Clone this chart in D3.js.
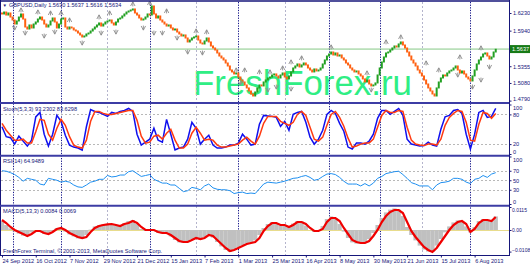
<!DOCTYPE html>
<html><head><meta charset="utf-8">
<script src="https://cdn.jsdelivr.net/npm/d3@7"></script>
<style>body{margin:0;background:#fff}svg{display:block}text{font-family:"Liberation Sans",Arial,sans-serif}</style>
</head><body><svg id="c" width="530" height="265"></svg>
<script>
// ---------- data ----------
const firstOpen = 1.6230;
const closes = [
1.6214,1.6246,1.6197,1.6230,1.6164, 1.6115,1.6049,1.6099,1.6164, 1.6214,1.6131,
1.6000,1.5967,1.6033,1.5984, 1.6049,1.6082,1.6131,1.6164,1.6115, 1.6049,1.6000,1.6033,
1.6099,1.6148, 1.6082,1.5984,1.6049, 1.6131,1.6148, 1.6000,1.5967,1.6000,1.5984,
1.5951,1.5934,1.5901,1.5869,1.5836, 1.5852,1.5885,1.5901,1.5934,1.5967,1.6000,1.6033,1.6066,
1.6016,1.6049,1.6082,1.6099,1.6115, 1.6066,1.6033,1.6082,1.6131,1.6148,1.6181,1.6214,1.6246,1.6263,1.6279,1.6296,
1.6230,1.6197,1.6148,1.6115,1.6131,1.6164, 1.6214,1.6197, 1.6345, 1.6214,1.6148,1.6181,1.6115,
1.6082,1.6049,1.6016,1.6033,1.5984,1.5951,1.5967,1.5918,1.5885,1.5852,1.5869,1.5819,
1.5754,1.5786,1.5819,1.5836,1.5852,1.5786,1.5737,1.5721,1.5770,1.5819,1.5754,1.5688,
1.5655,1.5622,1.5573,1.5523,1.5491,1.5458,1.5408, 1.5359,1.5293,1.5261,1.5228,1.5244,1.5178,1.5129,
1.5096,1.5047,1.4998,1.4948,1.4899,1.4866,
1.4932,1.4998,1.5047,1.5031,1.5096,1.5129,1.5162,1.5178,1.5211,1.5228,
1.5195,1.5162,1.5211,1.5244,1.5178,1.5146,1.5195,1.5261,
1.5326,1.5359,1.5392,1.5343,1.5376,1.5408,1.5376, 1.5326,1.5293,1.5261,1.5310,1.5277,1.5293,1.5326,
1.5392,1.5458,1.5523,1.5556,1.5589, 1.5540,1.5573,1.5523,1.5540,
1.5491,1.5458,1.5408,1.5376,1.5326,1.5293,1.5261,1.5277,1.5228,1.5195,
1.5146,1.5096,1.5129,1.5063,1.5031,1.5047,1.5080, 1.5211,1.5326,1.5425,1.5507,1.5573,
1.5589,1.5622,1.5655,1.5688,1.5671,1.5721,1.5754, 1.5704,1.5655,
1.5589,1.5523,1.5458,1.5408,1.5359,1.5293,1.5244, 1.5195,1.5129,1.5063,1.4998,1.4948,1.4899,1.4866,
1.4998,1.5096,1.5162,1.5211,1.5195,1.5244,1.5277,1.5293,1.5326,1.5359,
1.5293,1.5244,1.5277,1.5228,1.5178,1.5146,1.5113, 1.5195,1.5293,1.5392,1.5458,1.5507,1.5556,1.5573,
1.5523,1.5474,1.5507,1.5589,1.5634];
// fractals: [bar index, price]
const fractalUp = [[9,1.6279],[17,1.6246],[23,1.6230],[28,1.6230],[32,1.6115],[46,1.6164],[51,1.6230],[62,1.6378],[70,1.6394],[78,1.6263],
[92,1.5934],[97,1.5918],[111,1.5293],[115,1.5293],[122,1.5261],[127,1.5261],[133,1.5326],[137,1.5425],[142,1.5491],[156,1.5671],
[173,1.5244],[182,1.5754],[189,1.5836],[201,1.5408],[207,1.5293],[217,1.5507],[227,1.5655]];
const fractalDown = [[6,1.5984],[11,1.5901],[20,1.5852],[25,1.5918],[38,1.5737],[47,1.5901],[54,1.5918],[67,1.5984],[72,1.5901],[76,1.5901],
[83,1.5819],[88,1.5589],[95,1.5573],[113,1.5080],[126,1.4965],[130,1.5014],[137,1.4981],[175,1.4965],[216,1.5211],[223,1.5014],[227,1.5129],[231,1.5343]];
// indicators, one value every 2 bars
const stochK = [55,35,33,20,36,26,16,28,75,84, 40,16,40,78,66,38,18,14,12,8, 55,90,86,84,80,76,84,82,86,88,
92,86,40,18,24,30,52,28,24,70, 40,8,12,14,30,64,52,20,30,38, 18,12,12,14,18,18,22,40,30,18,
20,60,78,77,76,74,56,66,48,80, 84,86,64,34,20,30,48,80,88,82, 62,46,14,10,22,22,20,26,40,72,
88,88,80,86,92,78,30,20,18,16, 17,24,18,16,50,75,78,88,90,82, 40,10,40,84,88,74,76,92];
const stochD = [62,48,38,28,28,30,22,22,45,70, 68,40,28,52,70,58,35,18,14,12, 28,66,86,86,82,80,80,82,84,86,
88,88,68,36,22,24,36,38,30,42, 50,28,12,12,20,42,54,42,28,30, 28,18,14,14,16,18,20,28,34,26,
20,36,62,76,76,76,66,62,58,64, 80,86,78,54,30,26,34,58,80,86, 74,56,32,14,16,20,22,22,30,54,
78,88,84,84,88,86,54,28,20,18, 17,20,20,18,30,58,74,82,88,86, 64,28,26,60,84,82,72,82];
const rsi = [70,69,66,62,56,48,54,52,50,42, 40,54,52,50,46,48,46,40,36,35, 40,46,48,52,52,60,57,58,61,61,
68,70,64,58,60,62,52,48,44,44, 40,40,33,26,28,35,33,30,38,42, 34,31,30,30,28,22,24,25,22,23,
22,32,42,46,45,44,46,48,51,54, 55,58,60,56,50,52,58,63,64,62, 56,48,42,42,42,38,43,38,44,54,
58,64,66,68,69,62,54,45,42,38, 38,38,30,40,45,46,48,54,54,52, 46,43,52,54,60,56,63,66];
const macdHist = [0.0045,0.0025,0.0008,-0.0008,-0.0018,-0.0028,-0.0030,-0.0012,0.0000,-0.0008,
-0.0020,-0.0020,-0.0005,0.0010,0.0010,-0.0008,-0.0022,-0.0032,-0.0042,-0.0042,
-0.0025,0.0002,0.0018,0.0025,0.0028,0.0030,0.0028,0.0022,0.0024,0.0035,
0.0045,0.0050,0.0030,0.0005,-0.0005,0.0002,-0.0002,-0.0015,-0.0018,-0.0015,
-0.0032,-0.0050,-0.0062,-0.0065,-0.0058,-0.0045,-0.0040,-0.0048,-0.0035,-0.0022,
-0.0038,-0.0060,-0.0082,-0.0100,-0.0110,-0.0098,-0.0086,-0.0076,-0.0068,-0.0062,
-0.0052,-0.0025,0.0010,0.0030,0.0040,0.0032,0.0022,0.0022,0.0018,0.0032,
0.0045,0.0042,0.0022,0.0000,-0.0010,-0.0002,0.0020,0.0055,0.0068,0.0058,
0.0030,-0.0008,-0.0040,-0.0062,-0.0068,-0.0068,-0.0062,-0.0045,-0.0015,0.0025,
0.0060,0.0088,0.0102,0.0108,0.0102,0.0070,0.0015,-0.0025,-0.0052,-0.0078,
-0.0098,-0.0108,-0.0110,-0.0078,-0.0045,-0.0012,0.0018,0.0038,0.0048,0.0045,
0.0018,-0.0012,0.0015,0.0045,0.0055,0.0052,0.0050,0.0068];
const macdSignal = [0.0050,0.0035,0.0015,0.0000,-0.0010,-0.0020,-0.0030,-0.0020,-0.0005,-0.0005,
-0.0015,-0.0020,-0.0010,0.0005,0.0010,0.0000,-0.0015,-0.0025,-0.0035,-0.0040,
-0.0035,-0.0010,0.0010,0.0020,0.0025,0.0028,0.0030,0.0025,0.0020,0.0030,
0.0035,0.0045,0.0035,0.0015,0.0000,0.0000,0.0000,-0.0010,-0.0015,-0.0015,
-0.0025,-0.0040,-0.0055,-0.0060,-0.0060,-0.0050,-0.0040,-0.0045,-0.0040,-0.0025,
-0.0030,-0.0050,-0.0070,-0.0090,-0.0105,-0.0100,-0.0090,-0.0080,-0.0070,-0.0065,
-0.0060,-0.0040,-0.0005,0.0020,0.0035,0.0035,0.0025,0.0025,0.0015,0.0025,
0.0040,0.0040,0.0030,0.0010,-0.0005,-0.0005,0.0005,0.0040,0.0060,0.0060,
0.0045,0.0010,-0.0020,-0.0050,-0.0060,-0.0065,-0.0065,-0.0055,-0.0030,0.0000,
0.0040,0.0070,0.0090,0.0100,0.0100,0.0085,0.0040,-0.0005,-0.0035,-0.0060,
-0.0085,-0.0100,-0.0110,-0.0090,-0.0060,-0.0030,0.0000,0.0025,0.0040,0.0045,
0.0030,-0.0010,0.0005,0.0035,0.0050,0.0050,0.0045,0.0065];
const dateLabels = ["24 Sep 2012","16 Oct 2012","7 Nov 2012","29 Nov 2012","21 Dec 2012","15 Jan 2013","7 Feb 2013",
"1 Mar 2013","25 Mar 2013","16 Apr 2013","8 May 2013","30 May 2013","21 Jun 2013","15 Jul 2013","6 Aug 2013"];
const dateLabelBars = [0,16,32,48,64,80,96,112,128,144,160,176,192,208,224];
const priceTicks = [1.6230,1.5940,1.5355,1.5080,1.4790];
const lastPrice = 1.5637;
const stochTicks = [100,80,20,0], stochLevels = [80,20];
const rsiTicks = [100,70,50,30,0], rsiLevels = [70,50,30];
const macdTicks = [0.0115,0,-0.0108];
const separatorBars = [5,28,70,112,155,179,222];
const gridBars = [50,92,134,199];
const titleMain = "GBPUSD,Daily  1.5630 1.5637 1.5616 1.5634";
const titleStoch = "Stoch(5,3,3) 93.2302 83.6298";
const titleRsi = "RSI(14) 64.9489";
const titleMacd = "MACD(5,13,3) 0.0084 0.0069";
const copyright = "FreshForex Terminal, © 2001-2013, MetaQuotes Software Corp.";
const watermark = "FreshForex.ru";

// ---------- drawing ----------
const svg = d3.select("#c");
const RX = 509, NAVY = "#16167a", FS = 5.6;
const x = d3.scaleLinear().domain([0, closes.length-1]).range([2, 2+(closes.length-1)*2.11]);
const xi = j => x(2*j);
const yP = d3.scaleLinear().domain([1.4790,1.6230]).range([100.6,13]);
const yS = d3.scaleLinear().domain([0,100]).range([154,104.5]);
const yR = d3.scaleLinear().domain([0,100]).range([204,156.5]);
const yM = d3.scaleLinear().domain([-0.0115,0.0115]).range([253,207]);
svg.append("rect").attr("width",530).attr("height",265).attr("fill","#fff");
const defs = svg.append("defs");
const panes = {pm:[1,102], ps:[104,155], pr:[156.5,205], pd:[206.5,255]};
Object.entries(panes).forEach(([id,[a,b]])=>{
  defs.append("clipPath").attr("id",id).append("rect").attr("x",1).attr("y",a).attr("width",RX-1).attr("height",b-a);
});

// watermark
svg.append("text").attr("x",193).attr("y",95).attr("font-size",35).attr("fill","#2fee84")
  .attr("textLength",219).attr("lengthAdjust","spacingAndGlyphs").text(watermark);

// vertical lines
svg.selectAll(".vg").data(gridBars).join("line").attr("x1",d=>Math.round(x(d))+0.5).attr("x2",d=>Math.round(x(d))+0.5)
  .attr("y1",2).attr("y2",255).attr("stroke","#b4b4cc").attr("stroke-dasharray","2,2").attr("stroke-width",1);
svg.selectAll(".vs").data(separatorBars).join("line").attr("x1",d=>Math.round(x(d))+0.5).attr("x2",d=>Math.round(x(d))+0.5)
  .attr("y1",2).attr("y2",255).attr("stroke","#1a1a8c").attr("stroke-dasharray","1.3,1.3").attr("stroke-width",1);

// level lines
function levels(arr, ys){ svg.append("g").selectAll("line").data(arr).join("line")
  .attr("x1",1).attr("x2",RX).attr("y1",d=>Math.round(ys(d))+0.5).attr("y2",d=>Math.round(ys(d))+0.5)
  .attr("stroke","#b8b8b8").attr("stroke-dasharray","2,2"); }
levels(stochLevels,yS); levels(rsiLevels,yR);
svg.append("line").attr("x1",1).attr("x2",RX).attr("y1",Math.round(yM(0))+0.5).attr("y2",Math.round(yM(0))+0.5)
  .attr("stroke","#e8dc8c").attr("stroke-width",1);

// bid line
svg.append("line").attr("x1",1).attr("x2",RX).attr("y1",yP(lastPrice)).attr("y2",yP(lastPrice)).attr("stroke","#86c886").attr("stroke-width",1);

// candles
const gm = svg.append("g").attr("clip-path","url(#pm)");
const opens = closes.map((c,i)=> i===0 ? firstOpen : closes[i-1]);
gm.selectAll("rect.c").data(closes).join("rect")
  .attr("x",(d,i)=>x(i)-1).attr("width",2)
  .attr("y",(d,i)=>Math.min(yP(d),yP(opens[i]))-0.5)
  .attr("height",(d,i)=>Math.max(1.5,Math.abs(yP(d)-yP(opens[i]))+1))
  .attr("fill",(d,i)=> d>=opens[i] ? "#22a022" : "#ff6010");
// fractals
gm.selectAll("path.fu").data(fractalUp).join("path")
  .attr("transform",d=>`translate(${x(d[0])},${yP(d[1])})`)
  .attr("d","M-2.2,2 L0,-2.2 L2.2,2 M0,-2 V2.4").attr("fill","none").attr("stroke","#8c8c8c").attr("stroke-width",0.9);
gm.selectAll("path.fd").data(fractalDown).join("path")
  .attr("transform",d=>`translate(${x(d[0])},${yP(d[1])})`)
  .attr("d","M-2.2,-2 L0,2.2 L2.2,-2 M0,2 V-2.4").attr("fill","none").attr("stroke","#8c8c8c").attr("stroke-width",0.9);

// stochastic
const gs = svg.append("g").attr("clip-path","url(#ps)");
gs.append("path").attr("d",d3.line().x((d,j)=>xi(j)).y(d=>yS(d))(stochK)).attr("fill","none").attr("stroke","#1010ee").attr("stroke-width",1.5);
gs.append("path").attr("d",d3.line().x((d,j)=>xi(j)).y(d=>yS(d))(stochD)).attr("fill","none").attr("stroke","#ff3a10").attr("stroke-width",1.5);
// rsi
const gr = svg.append("g").attr("clip-path","url(#pr)");
gr.append("path").attr("d",d3.line().x((d,j)=>xi(j)).y(d=>yR(d))(rsi)).attr("fill","none").attr("stroke","#1e8ff0").attr("stroke-width",1);
// macd
const gd = svg.append("g").attr("clip-path","url(#pd)");
gd.selectAll("rect").data(macdHist).join("rect")
  .attr("x",(d,j)=>xi(j)-2.15).attr("width",4.3)
  .attr("y",d=>Math.min(yM(d),yM(0))).attr("height",d=>Math.abs(yM(d)-yM(0)))
  .attr("fill","#c0c0c0");
gd.append("path").attr("d",d3.line().x((d,j)=>xi(j)).y(d=>yM(d))(macdSignal)).attr("fill","none").attr("stroke","#f00000").attr("stroke-width",2.2);

// borders
const bl = (x1,y1,x2,y2,w,c)=>svg.append("line").attr("x1",x1).attr("y1",y1).attr("x2",x2).attr("y2",y2).attr("stroke",c||NAVY).attr("stroke-width",w);
bl(0,1,RX+0.5,1,1.5); bl(0.5,0,0.5,255.5,1); bl(RX+0.5,0,RX+0.5,256,1);
bl(0,103,RX,103,2,"#3c3ca4"); bl(0,155.8,RX,155.8,2,"#3c3ca4"); bl(0,205.8,RX,205.8,2,"#3c3ca4"); bl(0,255.5,RX+0.5,255.5,1);

// right axes
function rightAxis(scale, ticks, fmt, y0, y1, fs, pad){
  const g = svg.append("g").attr("transform",`translate(${RX+0.5},0)`)
    .call(d3.axisRight(scale).tickValues(ticks).tickFormat(fmt).tickSize(2).tickPadding(pad));
  g.select(".domain").remove();
  g.selectAll("line").attr("stroke",NAVY);
  g.selectAll("text").attr("font-size",fs).attr("fill",NAVY).attr("font-family","Liberation Sans, Arial, sans-serif")
    .attr("dy",function(d){ const p=scale(d); return p-y0<3 ? "0.95em" : (y1-p<3 ? "-0.1em":"0.32em"); });
  return g;
}
rightAxis(yP, priceTicks, d3.format(".4f"), 2, 101.5, FS, 1.5);
rightAxis(yS, stochTicks, d3.format("d"), 104, 155, FS, 1.5);
rightAxis(yR, rsiTicks, d3.format("d"), 156.5, 205, FS, 1.5);
rightAxis(yM, macdTicks, d=> d===0 ? "0.00" : d3.format(".4f")(d), 206.5, 253.5, 5, 0.5);
// last price box
const ly = yP(lastPrice);
svg.append("rect").attr("x",RX+1).attr("y",ly-4).attr("width",21).attr("height",8).attr("fill","#167a16");
svg.append("text").attr("x",RX+3).attr("y",ly+2).attr("font-size",FS).attr("fill","#fff").text(d3.format(".4f")(lastPrice));

// bottom date axis
const gx = svg.append("g").attr("transform","translate(0,255.5)")
  .call(d3.axisBottom(x).tickValues(dateLabelBars).tickFormat((d,i)=>dateLabels[i]).tickSize(2).tickPadding(1.5));
gx.select(".domain").remove();
gx.selectAll("line").attr("stroke",NAVY);
gx.selectAll("text").attr("font-size",FS).attr("fill",NAVY).attr("text-anchor","start").attr("font-family","Liberation Sans, Arial, sans-serif");

// titles
const tx = (xx,yy,t)=>svg.append("text").attr("x",xx).attr("y",yy).attr("font-size",FS).attr("fill",NAVY).text(t);
svg.append("text").attr("x",2.5).attr("y",7).attr("font-size",4.5).attr("fill",NAVY).text("▼");
tx(9,7.2,titleMain);
tx(3,110.5,titleStoch);
tx(3,162.5,titleRsi);
tx(3,212.5,titleMacd);
tx(3,252.5,copyright);
</script></body></html>
